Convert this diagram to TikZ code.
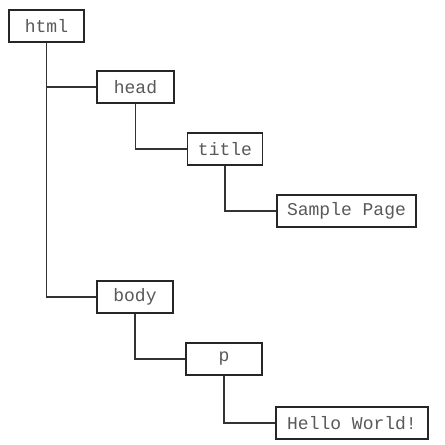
\documentclass[tikz,border=0pt]{standalone}
\usepackage{fontspec}
\setmonofont{Liberation Mono}
\begin{document}
\begin{tikzpicture}[x=1pt,y=-1pt,
  elem/.style={draw=black!85, line width=1.1pt, fill=white, inner sep=0pt,
    minimum height=32pt, font=\ttfamily\fontsize{18pt}{20pt}\selectfont, text=black!65},
  link/.style={draw=black!80, line width=1.1pt}]
\useasboundingbox (0,0) rectangle (445,445);
\node[elem, minimum width=75pt] (html) at (46.5,26) {html};
\node[elem, minimum width=77pt] (head) at (135.5,87) {head};
\node[elem, minimum width=75.5pt] (title) at (225,149) {title};
\node[elem, minimum width=139pt] (sample) at (346.5,211) {Sample Page};
\node[elem, minimum width=76pt] (body) at (135,297) {body};
\node[elem, minimum width=76pt] (p) at (224,359) {p};
\node[elem, minimum width=152pt] (hello) at (352,423) {Hello World!};
\draw[link] (html.south) |- (body.west);
\draw[link] (html.south |- head.west) -- (head.west);
\draw[link] (head.south) |- (title.west);
\draw[link] (title.south) |- (sample.west);
\draw[link] (body.south) |- (p.west);
\draw[link] (p.south) |- (hello.west);
\end{tikzpicture}
\end{document}
